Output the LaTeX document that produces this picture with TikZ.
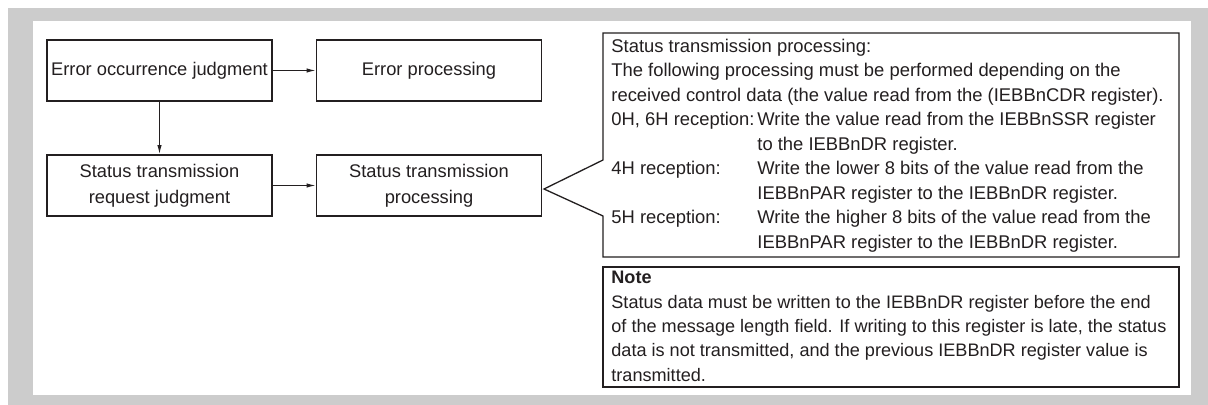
\documentclass[tikz,border=0pt]{standalone}
\usepackage{fontspec}
\setmainfont{Liberation Sans}
\usetikzlibrary{arrows.meta}
\definecolor{ink}{HTML}{231F20}
\definecolor{panelgray}{HTML}{CCCCCC}
\begin{document}
\begin{tikzpicture}[x=0.5pt,y=-0.5pt,
  flowbox/.style={draw=ink, line width=0.95pt, minimum width=112.5pt, minimum height=30.5pt,
    inner sep=0pt, align=center, text=ink, font=\fontsize{9.15}{13}\selectfont},
  conn/.style={draw=ink, line width=0.5pt, -{Latex[length=4.5pt,width=2.2pt]}},
  txt/.style={anchor=base west, inner sep=0pt, text=ink, font=\fontsize{9.2}{11}\selectfont},
  notetxt/.style={txt, font=\fontsize{9.05}{11}\selectfont},
  frame/.style={draw=ink, line width=0.65pt, fill=white}]
\useasboundingbox (0,0) rectangle (1208,405);
\fill[panelgray] (8,8) rectangle (1208,405);
\fill[white] (33,21) rectangle (1191,395);

% flow boxes
\node[flowbox] (eoj) at (159.5,70.5) {Error occurrence judgment};
\node[flowbox] (ep) at (429,70.5) {Error processing};
\node[flowbox] (strj) at (159.5,185.5) {Status transmission\\request judgment};
\node[flowbox] (stp) at (429,185.5) {Status transmission\\processing};
\draw[conn] (eoj) -- (ep);
\draw[conn] (eoj) -- (strj);
\draw[conn] (strj) -- (stp);

% callout
\coordinate (apex) at (544,189);
\coordinate (ctl) at (603,33);
\coordinate (ctr) at (1179,33);
\coordinate (cbr) at (1179,257);
\coordinate (cbl) at (603,257);
\coordinate (cwb) at (603,216);
\coordinate (cwt) at (603,160);
\draw[frame] (ctl) -- (ctr) -- (cbr) -- (cbl) -- (cwb) -- (apex) -- (cwt) -- cycle;

\node[txt] (l0) at (611,52.5) {Status transmission processing:};
\node[txt] (l1) at (611,77) {The following processing must be performed depending on the};
\node[txt] (l2) at (611,101.5) {received control data (the value read from the (IEBBnCDR register).};
\node[txt] (l3a) at (611,126) {0H, 6H reception:};
\node[txt] (l3b) at (757,126) {Write the value read from the IEBBnSSR register};
\node[txt] (l4) at (757,150.5) {to the IEBBnDR register.};
\node[txt] (l5a) at (611,175) {4H reception:};
\node[txt] (l5b) at (757,175) {Write the lower 8 bits of the value read from the};
\node[txt] (l6) at (757,199.5) {IEBBnPAR register to the IEBBnDR register.};
\node[txt] (l7a) at (611,224) {5H reception:};
\node[txt] (l7b) at (757,224) {Write the higher 8 bits of the value read from the};
\node[txt] (l8) at (757,248.5) {IEBBnPAR register to the IEBBnDR register.};

% note box
\draw[frame] (603,267) rectangle (1179,387);
\node[notetxt, font=\fontsize{9.05}{11}\selectfont\bfseries] (n0) at (611,283.5) {Note};
\node[notetxt] (n1) at (611,308) {Status data must be written to the IEBBnDR register before the end};
\node[notetxt] (n2) at (611,332.5) {of the message length field. If writing to this register is late, the status};
\node[notetxt] (n3) at (611,357) {data is not transmitted, and the previous IEBBnDR register value is};
\node[notetxt] (n4) at (611,381.5) {transmitted.};
\end{tikzpicture}
\end{document}
